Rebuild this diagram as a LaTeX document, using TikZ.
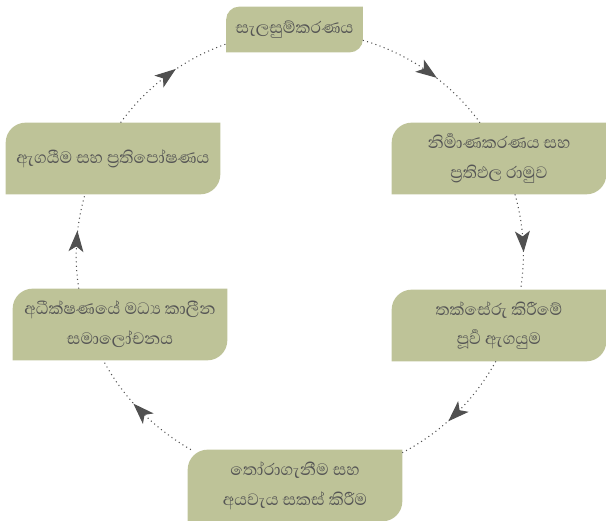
\documentclass[tikz,border=0pt]{standalone}
\usepackage{fontspec}
\newfontfamily\sinhala[Script=Sinhala]{Abhaya Libre}
\usetikzlibrary{arrows.meta, decorations.markings, backgrounds}
\definecolor{leaf}{RGB}{190,195,152}
\definecolor{inkgray}{RGB}{85,85,85}
\definecolor{tipgray}{RGB}{80,80,80}
\tikzstyle{stage} = [rectangle, minimum width=4.28cm, minimum height=1.42cm, inner sep=0pt, align=center, text=inkgray, font=\sinhala\fontsize{12}{17}\selectfont]
\tikzstyle{smallstage} = [stage, minimum width=2.72cm, minimum height=0.9cm]
\tikzstyle{flow} = [draw=tipgray, line width=0.6pt, dash pattern=on 0.6pt off 1.9pt, looseness=0.87, postaction={decorate, solid}, decoration={markings, mark=at position 0.5 with {\arrow[xshift=6pt]{Stealth[length=12pt, width=8.5pt, inset=3pt]}}}]
\newcommand{\leafbox}[2]{\fill[leaf] ([yshift=-#2]#1.north west) arc[start angle=180, end angle=90, radius=#2] -- (#1.north east) -- ([yshift=#2]#1.south east) arc[start angle=0, end angle=-90, radius=#2] -- (#1.south west) -- cycle;}

\begin{document}
\begin{tikzpicture}[x=0.02cm, y=0.02cm]
\useasboundingbox (0,0) rectangle (606,521);
\node (plan) [smallstage] at (294.5,491.5) {සැලසුම්කරණය};
\node (design) [stage] at (499,362.5) {නිර්^^^^200dමාණකරණය සහ\\ප්^^^^200dරතිඵල රාමුව};
\node (apprs) [stage] at (499,195.5) {තක්සේරු කිරීමේ\\පූර්^^^^200dව ඇගයුම};
\node (select) [stage] at (295,35.5) {තෝරාගැනීම සහ\\අයවැය සකස් කිරීම};
\node (review) [stage] at (120,196.5) {අධීක්ෂණයේ මධ්^^^^200dය කාලීන\\සමාලෝචනය};
\node (eval) [stage] at (113,362.5) {ඇගයීම සහ ප්^^^^200dරතිපෝෂණය};
\begin{pgfonlayer}{background}
\foreach \n/\r in {plan/0.26cm, design/0.4cm, apprs/0.4cm, select/0.4cm, review/0.4cm, eval/0.4cm}
  {\leafbox{\n}{\r}}
\end{pgfonlayer}
\draw [flow] (plan.351) to[out=-16, in=126] (design.118);
\draw [flow] (design.294) to[out=-74, in=81] (apprs.59);
\draw [flow] (apprs.265) to[out=-119, in=27.5] (select.17);
\draw [flow] (select.161) to[out=150, in=-62] (review.245);
\draw [flow] (review.139) to[out=99, in=-106] (eval.232);
\draw [flow] (eval.78.5) to[out=54, in=199] (plan.192.5);
\end{tikzpicture}
\end{document}
